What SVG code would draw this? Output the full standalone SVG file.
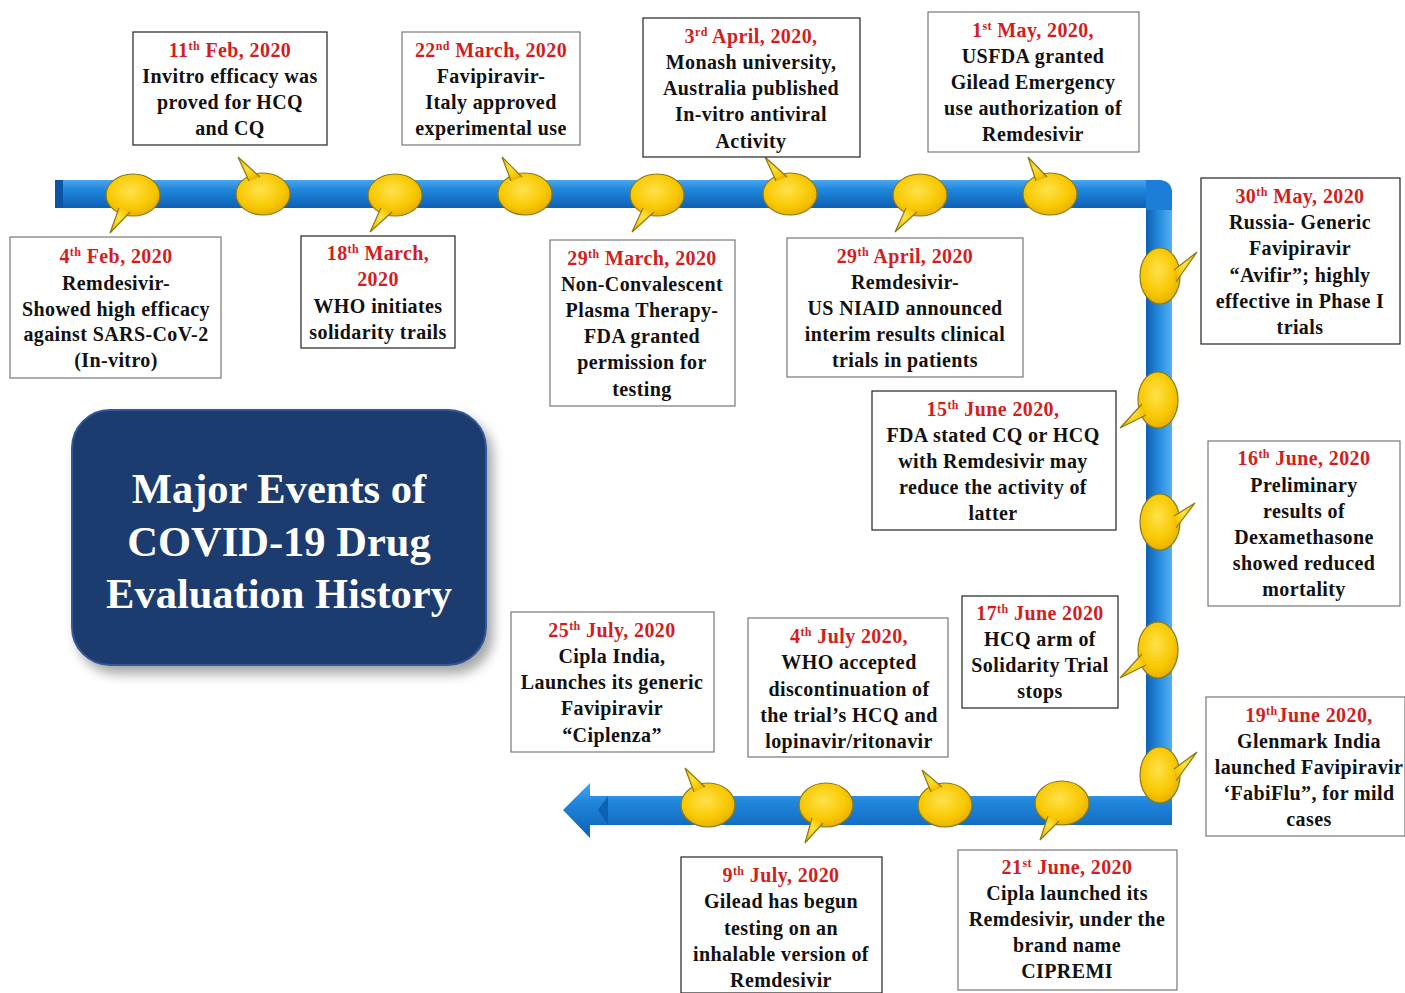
<svg xmlns="http://www.w3.org/2000/svg" width="1405" height="993" viewBox="0 0 1405 993">
<defs>
<linearGradient id="gh" x1="0" y1="0" x2="0" y2="1">
<stop offset="0" stop-color="#4aa6ee"/><stop offset="0.35" stop-color="#1f86dc"/><stop offset="1" stop-color="#0d60b4"/>
</linearGradient>
<linearGradient id="gv" x1="0" y1="0" x2="1" y2="0">
<stop offset="0" stop-color="#0d60b4"/><stop offset="0.55" stop-color="#2a8fe0"/><stop offset="1" stop-color="#55b0f2"/>
</linearGradient>
<radialGradient id="gy" cx="0.45" cy="0.4" r="0.6">
<stop offset="0" stop-color="#ffe24a"/><stop offset="0.7" stop-color="#f8c800"/><stop offset="1" stop-color="#e8b000"/>
</radialGradient>
<filter id="sh" x="-10%" y="-10%" width="125%" height="130%">
<feDropShadow dx="6" dy="8" stdDeviation="6" flood-color="#000" flood-opacity="0.35"/>
</filter>
</defs>
<style>
.box{fill:#fff;stroke:#777;stroke-width:1.2}
.dk{stroke:#222}
.t{font-family:"Liberation Serif","Times New Roman",serif;font-weight:bold;font-size:20px;letter-spacing:0.4px;fill:#111;text-anchor:middle}
.r{fill:#d21e1e}
.s{font-size:12px}
.b{fill:url(#gy);stroke:#8a7a18;stroke-width:1.2}
.title{font-family:"Liberation Serif","Times New Roman",serif;font-weight:bold;font-size:42.5px;fill:#fff;text-anchor:middle}
</style>
<rect width="1405" height="993" fill="#fff"/>

<g id="connectors">
<path d="M55,180 H1158 Q1172,180 1172,194 V208 H55 Z" fill="url(#gh)"/>
<rect x="55" y="180" width="8" height="28" fill="#0b56a3"/>
<path d="M1146,194 H1172 V825 H1146 Z" fill="url(#gv)"/>
<path d="M1158,180 Q1172,180 1172,194 L1172,210 L1146,210 L1146,180 Z" fill="#1c7ed6"/>
<path d="M563,810 L590,783 L590,796 L1172,796 L1172,825 L590,825 L590,838 Z" fill="url(#gh)"/>
<path d="M598,810 L608,796 L608,825 Z" fill="#0d60b4"/>
</g>

<g id="bubbles">
<g transform="translate(133,195)"><ellipse class="b" rx="27" ry="21"/><path class="b" d="M-14,13 L-23,38 L-3,17"/></g>
<g transform="translate(263,194)"><ellipse class="b" rx="27" ry="21"/><path class="b" d="M-14,-13 L-25,-37 L-3,-17"/></g>
<g transform="translate(395,195)"><ellipse class="b" rx="27" ry="21"/><path class="b" d="M-14,13 L-25,37 L-3,17"/></g>
<g transform="translate(525,194)"><ellipse class="b" rx="27" ry="21"/><path class="b" d="M-14,-13 L-23,-37 L-3,-17"/></g>
<g transform="translate(657,195)"><ellipse class="b" rx="27" ry="21"/><path class="b" d="M-14,13 L-25,37 L-3,17"/></g>
<g transform="translate(790,194)"><ellipse class="b" rx="27" ry="21"/><path class="b" d="M-14,-13 L-25,-37 L-3,-17"/></g>
<g transform="translate(920,195)"><ellipse class="b" rx="27" ry="21"/><path class="b" d="M-14,13 L-25,37 L-3,17"/></g>
<g transform="translate(1050,194)"><ellipse class="b" rx="27" ry="21"/><path class="b" d="M-14,-13 L-22,-37 L-3,-17"/></g>

<g transform="translate(1160,276)"><ellipse class="b" rx="20" ry="28"/><path class="b" d="M14,-6 L37,-24 L16,6"/></g>
<g transform="translate(1158,400)"><ellipse class="b" rx="20" ry="28"/><path class="b" d="M-16,4 L-38,28 L-12,15"/></g>
<g transform="translate(1160,522)"><ellipse class="b" rx="20" ry="28"/><path class="b" d="M14,-6 L35,-19 L16,6"/></g>
<g transform="translate(1158,650)"><ellipse class="b" rx="20" ry="28"/><path class="b" d="M-16,4 L-38,28 L-12,15"/></g>
<g transform="translate(1160,775)"><ellipse class="b" rx="20" ry="28"/><path class="b" d="M14,-6 L37,-23 L16,6"/></g>

<g transform="translate(708,805)"><ellipse class="b" rx="27" ry="22"/><path class="b" d="M-14,-13 L-23,-37 L-3,-18"/></g>
<g transform="translate(826,805)"><ellipse class="b" rx="27" ry="22"/><path class="b" d="M-14,13 L-21,38 L-3,18"/></g>
<g transform="translate(945,805)"><ellipse class="b" rx="27" ry="22"/><path class="b" d="M-14,-13 L-23,-35 L-3,-18"/></g>
<g transform="translate(1062,803)"><ellipse class="b" rx="27" ry="22"/><path class="b" d="M-14,13 L-22,37 L-3,18"/></g>
</g>

<g id="title">
<rect x="72" y="410" width="414" height="255" rx="38" fill="#1f3b6e" stroke="#35589a" stroke-width="2" filter="url(#sh)"/>
<text class="title" x="279" y="503">Major Events of</text>
<text class="title" x="279" y="556">COVID-19 Drug</text>
<text class="title" x="279" y="608">Evaluation History</text>
</g>

<g id="e-4feb">
<rect class="box" x="10" y="237" width="211" height="141"/>
<text class="t r" x="116" y="263">4<tspan class="s" dy="-7">th</tspan><tspan dy="7"> Feb, 2020</tspan></text>
<text class="t" x="116" y="290">Remdesivir-</text>
<text class="t" x="116" y="316">Showed high efficacy</text>
<text class="t" x="116" y="341">against SARS-CoV-2</text>
<text class="t" x="116" y="367">(In-vitro)</text>
</g>

<g id="e-11feb">
<rect class="box dk" x="133" y="32" width="194" height="113"/>
<text class="t r" x="230" y="57">11<tspan class="s" dy="-7">th</tspan><tspan dy="7"> Feb, 2020</tspan></text>
<text class="t" x="230" y="83">Invitro efficacy was</text>
<text class="t" x="230" y="109">proved for HCQ</text>
<text class="t" x="230" y="135">and CQ</text>
</g>

<g id="e-18mar">
<rect class="box dk" x="301" y="236" width="154" height="112"/>
<text class="t r" x="378" y="260">18<tspan class="s" dy="-7">th</tspan><tspan dy="7"> March,</tspan></text>
<text class="t r" x="378" y="286">2020</text>
<text class="t" x="378" y="313">WHO initiates</text>
<text class="t" x="378" y="339">solidarity trails</text>
</g>

<g id="e-22mar">
<rect class="box" x="402" y="32" width="178" height="113"/>
<text class="t r" x="491" y="57">22<tspan class="s" dy="-7">nd</tspan><tspan dy="7"> March, 2020</tspan></text>
<text class="t" x="491" y="83">Favipiravir-</text>
<text class="t" x="491" y="109">Italy approved</text>
<text class="t" x="491" y="135">experimental use</text>
</g>

<g id="e-29mar">
<rect class="box" x="550" y="240" width="185" height="166"/>
<text class="t r" x="642" y="265">29<tspan class="s" dy="-7">th</tspan><tspan dy="7"> March, 2020</tspan></text>
<text class="t" x="642" y="291">Non-Convalescent</text>
<text class="t" x="642" y="317">Plasma Therapy-</text>
<text class="t" x="642" y="343">FDA granted</text>
<text class="t" x="642" y="369">permission for</text>
<text class="t" x="642" y="396">testing</text>
</g>

<g id="e-3apr">
<rect class="box dk" x="643" y="18" width="217" height="139"/>
<text class="t r" x="751" y="43">3<tspan class="s" dy="-7">rd</tspan><tspan dy="7"> April, 2020,</tspan></text>
<text class="t" x="751" y="69">Monash university,</text>
<text class="t" x="751" y="95">Australia published</text>
<text class="t" x="751" y="121">In-vitro antiviral</text>
<text class="t" x="751" y="148">Activity</text>
</g>

<g id="e-29apr">
<rect class="box" x="787" y="238" width="236" height="139"/>
<text class="t r" x="905" y="263">29<tspan class="s" dy="-7">th</tspan><tspan dy="7"> April, 2020</tspan></text>
<text class="t" x="905" y="289">Remdesivir-</text>
<text class="t" x="905" y="315">US NIAID announced</text>
<text class="t" x="905" y="341">interim results clinical</text>
<text class="t" x="905" y="367">trials in patients</text>
</g>

<g id="e-1may">
<rect class="box" x="928" y="12" width="211" height="140"/>
<text class="t r" x="1033" y="37">1<tspan class="s" dy="-7">st</tspan><tspan dy="7"> May, 2020,</tspan></text>
<text class="t" x="1033" y="63">USFDA granted</text>
<text class="t" x="1033" y="89">Gilead Emergency</text>
<text class="t" x="1033" y="115">use authorization of</text>
<text class="t" x="1033" y="141">Remdesivir</text>
</g>

<g id="e-30may">
<rect class="box dk" x="1201" y="178" width="199" height="166"/>
<text class="t r" x="1300" y="203">30<tspan class="s" dy="-7">th</tspan><tspan dy="7"> May, 2020</tspan></text>
<text class="t" x="1300" y="229">Russia- Generic</text>
<text class="t" x="1300" y="255">Favipiravir</text>
<text class="t" x="1300" y="282">“Avifir”; highly</text>
<text class="t" x="1300" y="308">effective in Phase I</text>
<text class="t" x="1300" y="334">trials</text>
</g>

<g id="e-15jun">
<rect class="box dk" x="872" y="391" width="244" height="139"/>
<text class="t r" x="993" y="416">15<tspan class="s" dy="-7">th</tspan><tspan dy="7"> June 2020,</tspan></text>
<text class="t" x="993" y="442">FDA stated CQ or HCQ</text>
<text class="t" x="993" y="468">with Remdesivir may</text>
<text class="t" x="993" y="494">reduce the activity of</text>
<text class="t" x="993" y="520">latter</text>
</g>

<g id="e-16jun">
<rect class="box" x="1208" y="441" width="192" height="165"/>
<text class="t r" x="1304" y="465">16<tspan class="s" dy="-7">th</tspan><tspan dy="7"> June, 2020</tspan></text>
<text class="t" x="1304" y="492">Preliminary</text>
<text class="t" x="1304" y="518">results of</text>
<text class="t" x="1304" y="544">Dexamethasone</text>
<text class="t" x="1304" y="570">showed reduced</text>
<text class="t" x="1304" y="596">mortality</text>
</g>

<g id="e-17jun">
<rect class="box dk" x="962" y="596" width="156" height="112"/>
<text class="t r" x="1040" y="620">17<tspan class="s" dy="-7">th</tspan><tspan dy="7"> June 2020</tspan></text>
<text class="t" x="1040" y="646">HCQ arm of</text>
<text class="t" x="1040" y="672">Solidarity Trial</text>
<text class="t" x="1040" y="698">stops</text>
</g>

<g id="e-19jun">
<rect class="box" x="1206" y="697" width="199" height="139"/>
<text class="t r" x="1309" y="722">19<tspan class="s" dy="-7">th</tspan><tspan dy="7">June 2020,</tspan></text>
<text class="t" x="1309" y="748">Glenmark India</text>
<text class="t" x="1309" y="774">launched Favipiravir</text>
<text class="t" x="1309" y="800">‘FabiFlu”, for mild</text>
<text class="t" x="1309" y="826">cases</text>
</g>

<g id="e-21jun">
<rect class="box" x="958" y="850" width="219" height="140"/>
<text class="t r" x="1067" y="874">21<tspan class="s" dy="-7">st</tspan><tspan dy="7"> June, 2020</tspan></text>
<text class="t" x="1067" y="900">Cipla launched its</text>
<text class="t" x="1067" y="926">Remdesivir, under the</text>
<text class="t" x="1067" y="952">brand name</text>
<text class="t" x="1067" y="978">CIPREMI</text>
</g>

<g id="e-4jul">
<rect class="box" x="748" y="618" width="200" height="139"/>
<text class="t r" x="849" y="643">4<tspan class="s" dy="-7">th</tspan><tspan dy="7"> July 2020,</tspan></text>
<text class="t" x="849" y="669">WHO accepted</text>
<text class="t" x="849" y="696">discontinuation of</text>
<text class="t" x="849" y="722">the trial’s HCQ and</text>
<text class="t" x="849" y="748">lopinavir/ritonavir</text>
</g>

<g id="e-9jul">
<rect class="box dk" x="681" y="857" width="201" height="136"/>
<text class="t r" x="781" y="882">9<tspan class="s" dy="-7">th</tspan><tspan dy="7"> July, 2020</tspan></text>
<text class="t" x="781" y="908">Gilead has begun</text>
<text class="t" x="781" y="935">testing on an</text>
<text class="t" x="781" y="961">inhalable version of</text>
<text class="t" x="781" y="987">Remdesivir</text>
</g>

<g id="e-25jul">
<rect class="box" x="511" y="612" width="203" height="140"/>
<text class="t r" x="612" y="637">25<tspan class="s" dy="-7">th</tspan><tspan dy="7"> July, 2020</tspan></text>
<text class="t" x="612" y="663">Cipla India,</text>
<text class="t" x="612" y="689">Launches its generic</text>
<text class="t" x="612" y="715">Favipiravir</text>
<text class="t" x="612" y="742">“Ciplenza”</text>
</g>
</svg>
